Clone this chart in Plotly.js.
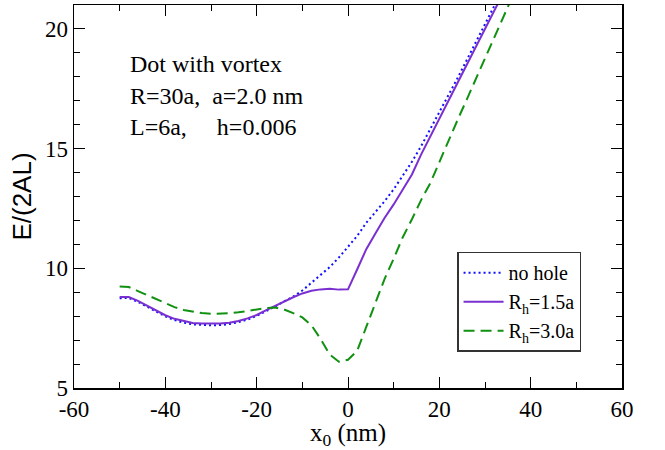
<!DOCTYPE html>
<html>
<head>
<meta charset="utf-8">
<script src="https://cdn.plot.ly/plotly-3.0.1.min.js"></script>
<style>html,body{margin:0;padding:0;background:#fff;}#chart{width:665px;height:450px;}</style>
</head>
<body>
<div id="chart"></div>
<script>
// x positions (nm)
const xNoHole = [-50,-48,-46,-44,-42,-40,-38,-36,-34,-32,-30,-28,-26,-24,-22,-20,-18,-16,-14,-12,-10,-8,-6,-4,-2,0,2,4,6,8,10,12,14,16,18,20,22,24,26,28,30,32,34];
const yNoHole = [8.75,8.76,8.60,8.40,8.19,7.99,7.84,7.73,7.66,7.63,7.62,7.63,7.67,7.75,7.86,8.01,8.19,8.40,8.62,8.82,9.07,9.40,9.72,10.05,10.45,10.88,11.35,11.90,12.35,12.80,13.30,13.85,14.45,15.10,15.80,16.50,17.20,17.95,18.70,19.45,20.20,20.95,21.70];

const xHole15 = [-50,-48,-46,-44,-42,-40,-38,-36,-34,-32,-30,-28,-26,-24,-22,-20,-18,-16,-14,-12,-10,-8,-6,-4,-2,0,2,4,6,8,10,12,14,16,18,20,22,24,26,28,30,32,34];
const yHole15 = [8.80,8.80,8.64,8.45,8.24,8.04,7.89,7.79,7.72,7.69,7.68,7.69,7.73,7.80,7.91,8.05,8.24,8.43,8.62,8.79,8.95,9.06,9.12,9.15,9.11,9.12,9.95,10.80,11.45,12.10,12.67,13.30,13.92,14.75,15.52,16.27,17.00,17.75,18.50,19.25,20.00,20.75,21.50];

const xHole30 = [-50,-48,-46,-44,-42,-40,-38,-36,-34,-32,-30,-28,-26,-24,-22,-20,-18,-16,-14,-12,-10,-8,-6,-4,-2,0,2,4,6,8,10,12,14,16,18,20,22,24,26,28,30,32,34,36];
const yHole30 = [9.24,9.22,9.05,8.88,8.70,8.52,8.38,8.26,8.18,8.13,8.10,8.10,8.12,8.16,8.22,8.29,8.34,8.36,8.28,8.13,7.95,7.62,7.05,6.40,6.10,6.18,6.55,7.55,8.55,9.55,10.40,11.30,12.05,12.85,13.55,14.45,15.35,16.20,17.05,17.90,18.80,19.65,20.50,21.35];

const seriesNames = ["no hole", "R<sub>h</sub>=1.5a", "R<sub>h</sub>=3.0a"];
const infoLines = ["Dot with vortex", "R=30a,  a=2.0 nm", "L=6a,     h=0.006"];

const xTickVals = [-60, -40, -20, 0, 20, 40, 60];
const xTickText = ["-60", "-40", "-20", "0", "20", "40", "60"];
const yTickVals = [5, 10, 15, 20];
const yTickText = ["5", "10", "15", "20"];

const serif = "Liberation Serif, Times New Roman, Times, DejaVu Serif, serif";
const sans = "Liberation Sans, Arial, Helvetica, sans-serif";

const traces = [
  {x: xNoHole, y: yNoHole, name: seriesNames[0], mode: "lines",
   line: {color: "#1010ff", width: 2, dash: "2px,3px"}},
  {x: xHole15, y: yHole15, name: seriesNames[1], mode: "lines",
   line: {color: "#7a2fd0", width: 2}},
  {x: xHole30, y: yHole30, name: seriesNames[2], mode: "lines",
   line: {color: "#119111", width: 2, dash: "11px,6px"}}
];

function axisBase() {
  return {
    showline: true, linecolor: "#000", linewidth: 1.5, mirror: "ticks",
    ticks: "inside", ticklen: 11, tickwidth: 1, tickcolor: "#000",
    showgrid: false, zeroline: false,
    tickfont: {family: serif, size: 23, color: "#000"}
  };
}

const layout = {
  width: 665, height: 450,
  margin: {l: 74, r: 43, t: 5, b: 62},
  paper_bgcolor: "#fff", plot_bgcolor: "#fff",
  font: {family: serif, size: 21, color: "#000"},
  showlegend: true,
  xaxis: Object.assign(axisBase(), {
    range: [-60, 60], tickmode: "array", tickvals: xTickVals, ticktext: xTickText,
    minor: {tickmode: "linear", tick0: -60, dtick: 10, ticks: "inside", ticklen: 6, tickwidth: 1, tickcolor: "#000", showgrid: false},
    title: {text: "x<sub>0</sub> (nm)", font: {family: serif, size: 25, color: "#000"}, standoff: 0}
  }),
  yaxis: Object.assign(axisBase(), {
    range: [5, 21], tickmode: "array", tickvals: yTickVals, ticktext: yTickText,
    minor: {tickmode: "linear", tick0: 5, dtick: 1, ticks: "inside", ticklen: 6, tickwidth: 1, tickcolor: "#000", showgrid: false},
    title: {text: "E/(2AL)", font: {family: sans, size: 26, color: "#000"}, standoff: 6}
  }),
  legend: {
    x: 0.699, y: 0.356, xanchor: "left", yanchor: "top",
    bgcolor: "#fff", bordercolor: "#333", borderwidth: 1.5,
    font: {family: serif, size: 20, color: "#000"},
    itemwidth: 40,
    tracegroupgap: 0
  },
  annotations: infoLines.map((t, i) => ({
    text: t, xref: "paper", yref: "paper",
    x: 0.099, y: [0.845, 0.763, 0.682][i],
    xanchor: "left", yanchor: "middle", showarrow: false,
    font: {family: serif, size: 24, color: "#000"}
  }))
};

Plotly.newPlot("chart", traces, layout, {staticPlot: true, displayModeBar: false});
</script>
</body>
</html>
